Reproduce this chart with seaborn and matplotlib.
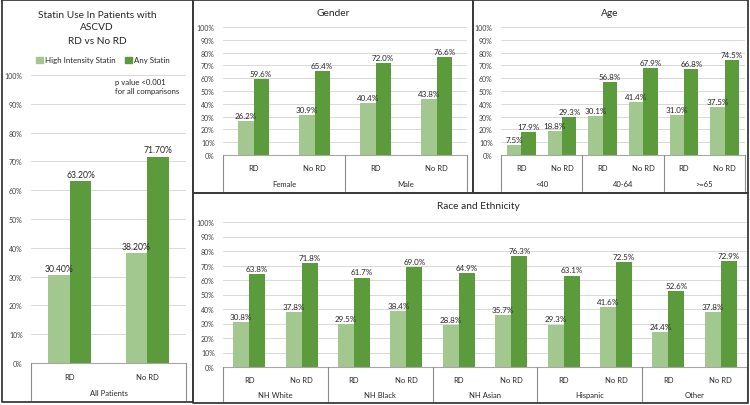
import numpy as np
import pandas as pd
import matplotlib
matplotlib.use("Agg")
import matplotlib.pyplot as plt
import matplotlib.transforms as mtransforms
from matplotlib.lines import Line2D
from matplotlib.patches import Patch
import seaborn as sns

sns.set_theme(style="white")
plt.rcParams['font.family'] = ['Lato', 'DejaVu Sans']

# Datos
series = ["High Intensity Statin", "Any Statin"]
colors = ["#A3C88F", "#5C9B3B"]

all_sub = ["RD", "No RD"]
all_groups = ["All Patients"]
all_high = [30.4, 38.2]
all_any = [63.2, 71.7]

gender_groups = ["Female", "Male"]
gender_sub = ["RD", "No RD", "RD", "No RD"]
gender_high = [26.2, 30.9, 40.4, 43.8]
gender_any = [59.6, 65.4, 72.0, 76.6]

age_groups = ["<40", "40-64", ">=65"]
age_sub = ["RD", "No RD"] * 3
age_high = [7.5, 18.8, 30.1, 41.4, 31.0, 37.5]
age_any = [17.9, 29.3, 56.8, 67.9, 66.8, 74.5]

race_groups = ["NH White", "NH Black", "NH Asian", "Hispanic", "Other"]
race_sub = ["RD", "No RD"] * 5
race_high = [30.8, 37.8, 29.5, 38.4, 28.8, 35.7, 29.3, 41.6, 24.4, 37.8]
race_any = [63.8, 71.8, 61.7, 69.0, 64.9, 76.3, 63.1, 72.5, 52.6, 72.9]

W, H = 750, 406
TXT = "#262626"
fig = plt.figure(figsize=(W / 100, H / 100), dpi=100)
fig.patch.set_facecolor("white")


def fy(y):
    return 1 - y / H


def make_axes(x0, y0, x1, y1):
    return fig.add_axes([x0 / W, 1 - y1 / H, (x1 - x0) / W, (y1 - y0) / H])


def panel(ax, sub, groups, high, anyv, width, fmt, box_bottom, lab_fs=5.8):
    n = len(sub)
    keys = [f"{i}" for i in range(n)]
    df = pd.DataFrame({
        "cat": keys * 2,
        "serie": [series[0]] * n + [series[1]] * n,
        "valor": list(high) + list(anyv),
    })
    sns.barplot(data=df, x="cat", y="valor", hue="serie", order=keys,
                hue_order=series, palette=colors, width=width, gap=0,
                saturation=1, ax=ax, legend=False, errorbar=None,
                linewidth=0)
    for cont in ax.containers:
        ax.bar_label(cont, labels=[fmt.format(v) for v in cont.datavalues],
                     padding=1.5, fontsize=lab_fs, color=TXT)
    ax.set_ylim(0, 100)
    ax.set_xlim(-0.5, n - 0.5)
    ax.set_yticks(np.arange(0, 101, 10))
    ax.set_yticklabels([f"{v}%" for v in range(0, 101, 10)])
    ax.tick_params(axis="y", labelsize=5.0, length=0, pad=6, labelcolor="#404040")
    ax.tick_params(axis="x", length=0, labelbottom=False)
    ax.set_xlabel("")
    ax.set_ylabel("")
    ax.grid(axis="y", color="#D9D9D9", lw=0.7)
    ax.set_axisbelow(True)
    for s in ["left", "right", "top"]:
        ax.spines[s].set_visible(False)
    ax.spines["bottom"].set_color("#A6A6A6")
    ax.spines["bottom"].set_linewidth(0.8)
    ax.set_facecolor("none")

    # Eje de categorías en dos niveles
    tr = mtransforms.blended_transform_factory(ax.transData, fig.transFigure)
    bb = ax.get_position()
    ytop = bb.y0
    ybot = fy(box_bottom)
    gsize = n // len(groups)
    edges = [-0.5 + k * gsize for k in range(len(groups) + 1)]
    for e in edges:
        fig.add_artist(Line2D([e, e], [ytop, ybot], transform=tr,
                              color="#8C8C8C", lw=0.8))
    box_h = (ytop - ybot)
    for i, s in enumerate(sub):
        fig.text(i, ytop - box_h * 0.36, s, transform=tr, ha="center",
                 va="center", fontsize=5.5, color=TXT)
    for k, g in enumerate(groups):
        c = (edges[k] + edges[k + 1]) / 2
        fig.text(c, ytop - box_h * 0.8, g, transform=tr, ha="center",
                 va="center", fontsize=5.5, color=TXT)


# Panel izquierdo
ax0 = make_axes(31, 76, 186, 364)
panel(ax0, all_sub, all_groups, all_high, all_any, 0.56, "{:.2f}%", 401, lab_fs=6.2)
for i, t in enumerate(["Statin Use In Patients with", "ASCVD", "RD vs No RD"]):
    fig.text(97 / W, fy([15, 28, 42][i]), t, ha="center", va="center",
             fontsize=7.3, color=TXT)
handles = [Patch(color=c) for c in colors]
fig.legend(handles, series, loc="center", bbox_to_anchor=(103 / W, fy(61)),
           ncol=2, frameon=False, fontsize=5.7, handlelength=0.8,
           handleheight=0.8, handletextpad=0.3, columnspacing=1.2,
           labelcolor=TXT)
fig.text(115 / W, fy(82), "p value <0.001", ha="left", va="center",
         fontsize=5.6, color=TXT)
fig.text(115 / W, fy(92), "for all comparisons", ha="left", va="center",
         fontsize=5.6, color=TXT)

# Género
ax1 = make_axes(223, 28, 467, 156)
panel(ax1, gender_sub, gender_groups, gender_high, gender_any, 0.5, "{:.1f}%", 192)
fig.text(333 / W, fy(14), "Gender", ha="center", va="center", fontsize=7.3,
         color=TXT)

# Edad
ax2 = make_axes(501, 28, 745, 156)
panel(ax2, age_sub, age_groups, age_high, age_any, 0.71, "{:.1f}%", 192)
fig.text(610 / W, fy(14), "Age", ha="center", va="center", fontsize=7.3,
         color=TXT)

# Raza y etnicidad
ax3 = make_axes(223, 223, 747, 368)
panel(ax3, race_sub, race_groups, race_high, race_any, 0.61, "{:.1f}%", 403)
fig.text(478 / W, fy(207), "Race and Ethnicity", ha="center", va="center",
         fontsize=7.3, color=TXT)

# Bordes de los paneles
for (x0, y0, x1, y1) in [(2, 1, 193, 403), (193, 1, 473, 194),
                         (473, 1, 748, 194), (193, 194, 748, 404)]:
    xs = [x0 / W, x1 / W, x1 / W, x0 / W, x0 / W]
    ys = [fy(y0), fy(y0), fy(y1), fy(y1), fy(y0)]
    fig.add_artist(Line2D(xs, ys, transform=fig.transFigure,
                          color="#3A3A3A", lw=1.3))

fig.savefig("out.png", dpi=100)
